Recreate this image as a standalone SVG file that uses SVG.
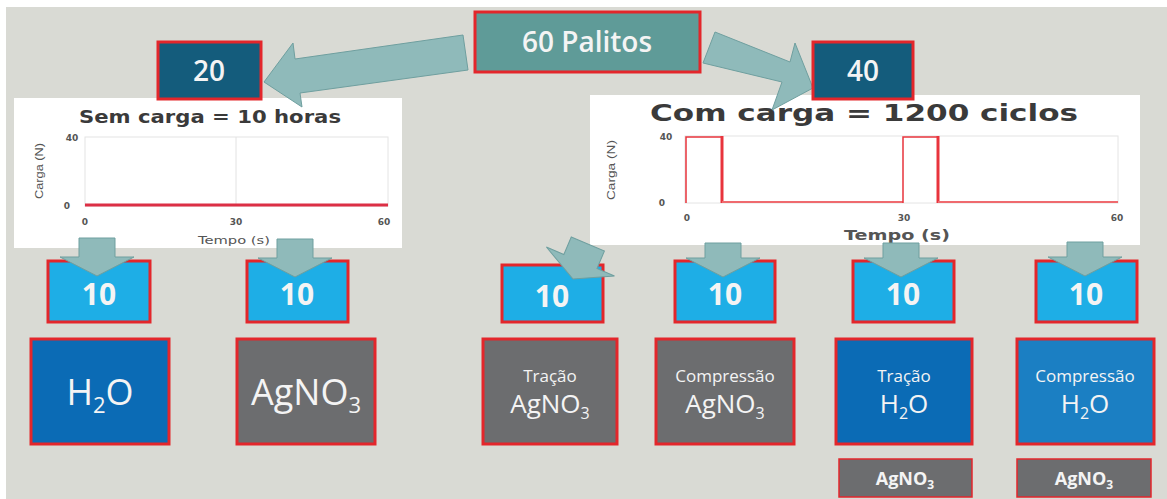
<svg xmlns="http://www.w3.org/2000/svg" width="1167" height="499" viewBox="0 0 1167 499">
<style>
.bx{stroke:#e3262b;stroke-width:3}
.teal{fill:#5f9b98}
.dark{fill:#145c7c}
.lb{fill:#1eaee6}
.blue{fill:#0b6bb5}
.blue2{fill:#1b7fc3}
.grey{fill:#6c6d6f}
.arr{fill:#8fbaba;stroke:#6f9f9f;stroke-width:1}
.t{font-family:"Open Sans","Noto Sans","Liberation Sans",sans-serif;fill:#f4f4f4;text-anchor:middle}
.ct{font-family:"DejaVu Sans","Verdana",sans-serif;font-weight:bold;fill:#3a3a3a;text-anchor:middle}
.ax{font-family:"DejaVu Sans",sans-serif;font-weight:bold;fill:#555;font-size:9px;text-anchor:middle}
.al{font-family:"Liberation Sans",sans-serif;fill:#555;font-size:11px;text-anchor:middle}
.frame{fill:#fff;stroke:#e4e4e4;stroke-width:1}
.red{fill:none;stroke:#e8343c;stroke-linejoin:miter}
</style>
<defs>
<polygon id="darrow" points="-18,-38 18,-38 18,-19 37,-19 0,0 -37,-19 -18,-19"/>
<polygon id="darrow2" points="-18,-34 18,-34 18,-19 37,-19 0,0 -37,-19 -18,-19"/>
</defs>
<rect x="0" y="0" width="1167" height="499" fill="#d9dad4"/>
<rect x="0" y="0" width="1167" height="7" fill="#fff"/>
<rect x="0" y="0" width="6" height="499" fill="#fff"/>

<g id="chart-left">
<rect x="14" y="98" width="388" height="150" fill="#fff"/>
<text class="ct" x="210" y="123" font-size="18" textLength="262" lengthAdjust="spacingAndGlyphs">Sem carga = 10 horas</text>
<rect class="frame" x="85" y="137" width="303" height="69"/>
<line x1="236" y1="137" x2="236" y2="206" stroke="#e2e2e2" stroke-width="1"/>
<line x1="85" y1="205" x2="388" y2="205" stroke="#dc2f45" stroke-width="3"/>
<text class="ax" x="72" y="141">40</text>
<text class="ax" x="67" y="209">0</text>
<text class="ax" x="85" y="225">0</text>
<text class="ax" x="236" y="225">30</text>
<text class="ax" x="384" y="225">60</text>
<text class="ax" x="234" y="244" style="font-weight:normal;font-size:11px" textLength="72" lengthAdjust="spacingAndGlyphs">Tempo (s)</text>
<text class="al" transform="translate(43,171) rotate(-90)" font-size="12" textLength="56" lengthAdjust="spacingAndGlyphs">Carga (N)</text>
</g>

<g id="chart-right">
<rect x="590" y="95" width="550" height="150" fill="#fff"/>
<text class="ct" x="864" y="121" font-size="23" textLength="428" lengthAdjust="spacingAndGlyphs">Com carga = 1200 ciclos</text>
<rect class="frame" x="685" y="136" width="433" height="67"/>
<polyline class="red" stroke-width="1.5" points="686,203 686,137 722,137"/>
<line x1="722" y1="136" x2="722" y2="203" stroke="#e8343c" stroke-width="3"/>
<line x1="722" y1="202" x2="903" y2="202" stroke="#ef6a6e" stroke-width="2"/>
<polyline class="red" stroke-width="1.5" points="903,203 903,137 938,137"/>
<line x1="938" y1="136" x2="938" y2="203" stroke="#e8343c" stroke-width="3"/>
<line x1="938" y1="202" x2="1118" y2="202" stroke="#ef6a6e" stroke-width="2"/>
<text class="ax" x="666" y="140" font-size="10">40</text>
<text class="ax" x="662" y="206" font-size="10">0</text>
<text class="ax" x="687" y="221" font-size="11">0</text>
<text class="ax" x="904" y="221" font-size="11">30</text>
<text class="ax" x="1117" y="221" font-size="11">60</text>
<text class="ax" x="897" y="240" style="font-size:14px" textLength="106" lengthAdjust="spacingAndGlyphs">Tempo (s)</text>
<text class="al" transform="translate(615,170) rotate(-90)" font-size="13" textLength="60" lengthAdjust="spacingAndGlyphs">Carga (N)</text>
</g>

<g id="connectors">
<polygon class="arr" points="463,35 295,59 293,43 264,82 302,107 300,93 468,70"/>
<polygon class="arr" points="715,32 790,62 795,43 813,88 772,110 782,82 703,63"/>
</g>

<g id="node-60">
<rect class="bx teal" x="475" y="12" width="225" height="60"/>
<text class="t" x="587" y="52" font-size="28" font-weight="600">60 Palitos</text>
</g>
<g id="node-20">
<rect class="bx dark" x="158" y="42" width="103" height="57"/>
<text class="t" x="209" y="81" font-size="28" font-weight="600">20</text>
</g>
<g id="node-40">
<rect class="bx dark" x="813" y="42" width="100" height="57"/>
<text class="t" x="863" y="81" font-size="28" font-weight="600">40</text>
</g>

<g id="node-10a"><rect class="bx lb" x="48" y="261" width="102" height="61"/><text class="t" x="99" y="305" font-size="30" font-weight="bold">10</text></g>
<g id="node-10b"><rect class="bx lb" x="247" y="261" width="101" height="61"/><text class="t" x="297" y="305" font-size="30" font-weight="bold">10</text></g>
<g id="node-10c"><rect class="bx lb" x="502" y="265" width="101" height="57"/><text class="t" x="552" y="307" font-size="30" font-weight="bold">10</text></g>
<g id="node-10d"><rect class="bx lb" x="675" y="261" width="100" height="61"/><text class="t" x="725" y="305" font-size="30" font-weight="bold">10</text></g>
<g id="node-10e"><rect class="bx lb" x="853" y="261" width="101" height="61"/><text class="t" x="903" y="305" font-size="30" font-weight="bold">10</text></g>
<g id="node-10f"><rect class="bx lb" x="1036" y="261" width="101" height="61"/><text class="t" x="1086" y="305" font-size="30" font-weight="bold">10</text></g>

<g id="connectors-small">
<use href="#darrow" class="arr" transform="translate(97,276)"/>
<use href="#darrow" class="arr" transform="translate(295,277)"/>
<use href="#darrow" class="arr" transform="translate(573,279) rotate(23)"/>
<use href="#darrow2" class="arr" transform="translate(723,277)"/>
<use href="#darrow2" class="arr" transform="translate(901,277)"/>
<use href="#darrow2" class="arr" transform="translate(1085,276)"/>
</g>

<g id="node-h2o">
<rect class="bx blue" x="31" y="339" width="138" height="105"/>
<text class="t" x="100" y="405" font-size="36">H<tspan font-size="22" dy="8">2</tspan><tspan dy="-8">O</tspan></text>
</g>
<g id="node-agno3">
<rect class="bx grey" x="237" y="339" width="138" height="105"/>
<text class="t" x="306" y="405" font-size="36">AgNO<tspan font-size="22" dy="8">3</tspan></text>
</g>
<g id="node-tracao-agno3">
<rect class="bx grey" x="483" y="339" width="134" height="105"/>
<text class="t" x="550" y="382" font-size="17">Tração</text>
<text class="t" x="550" y="413" font-size="26">AgNO<tspan font-size="16" dy="6">3</tspan></text>
</g>
<g id="node-compressao-agno3">
<rect class="bx grey" x="656" y="339" width="138" height="105"/>
<text class="t" x="725" y="382" font-size="17">Compressão</text>
<text class="t" x="725" y="413" font-size="26">AgNO<tspan font-size="16" dy="6">3</tspan></text>
</g>
<g id="node-tracao-h2o">
<rect class="bx blue" x="836" y="339" width="136" height="105"/>
<text class="t" x="904" y="382" font-size="17">Tração</text>
<text class="t" x="904" y="413" font-size="26">H<tspan font-size="16" dy="6">2</tspan><tspan dy="-6">O</tspan></text>
</g>
<g id="node-compressao-h2o">
<rect class="bx blue2" x="1017" y="339" width="137" height="105"/>
<text class="t" x="1085" y="382" font-size="17">Compressão</text>
<text class="t" x="1085" y="413" font-size="26">H<tspan font-size="16" dy="6">2</tspan><tspan dy="-6">O</tspan></text>
</g>
<g id="node-agno3-small-1">
<rect class="grey" x="839" y="459" width="133" height="38" stroke="#e3262b" stroke-width="1.5"/>
<text class="t" x="905" y="485" font-size="18" font-weight="bold">AgNO<tspan font-size="12" dy="4">3</tspan></text>
</g>
<g id="node-agno3-small-2">
<rect class="grey" x="1017" y="459" width="134" height="38" stroke="#e3262b" stroke-width="1.5"/>
<text class="t" x="1084" y="485" font-size="18" font-weight="bold">AgNO<tspan font-size="12" dy="4">3</tspan></text>
</g>
</svg>
